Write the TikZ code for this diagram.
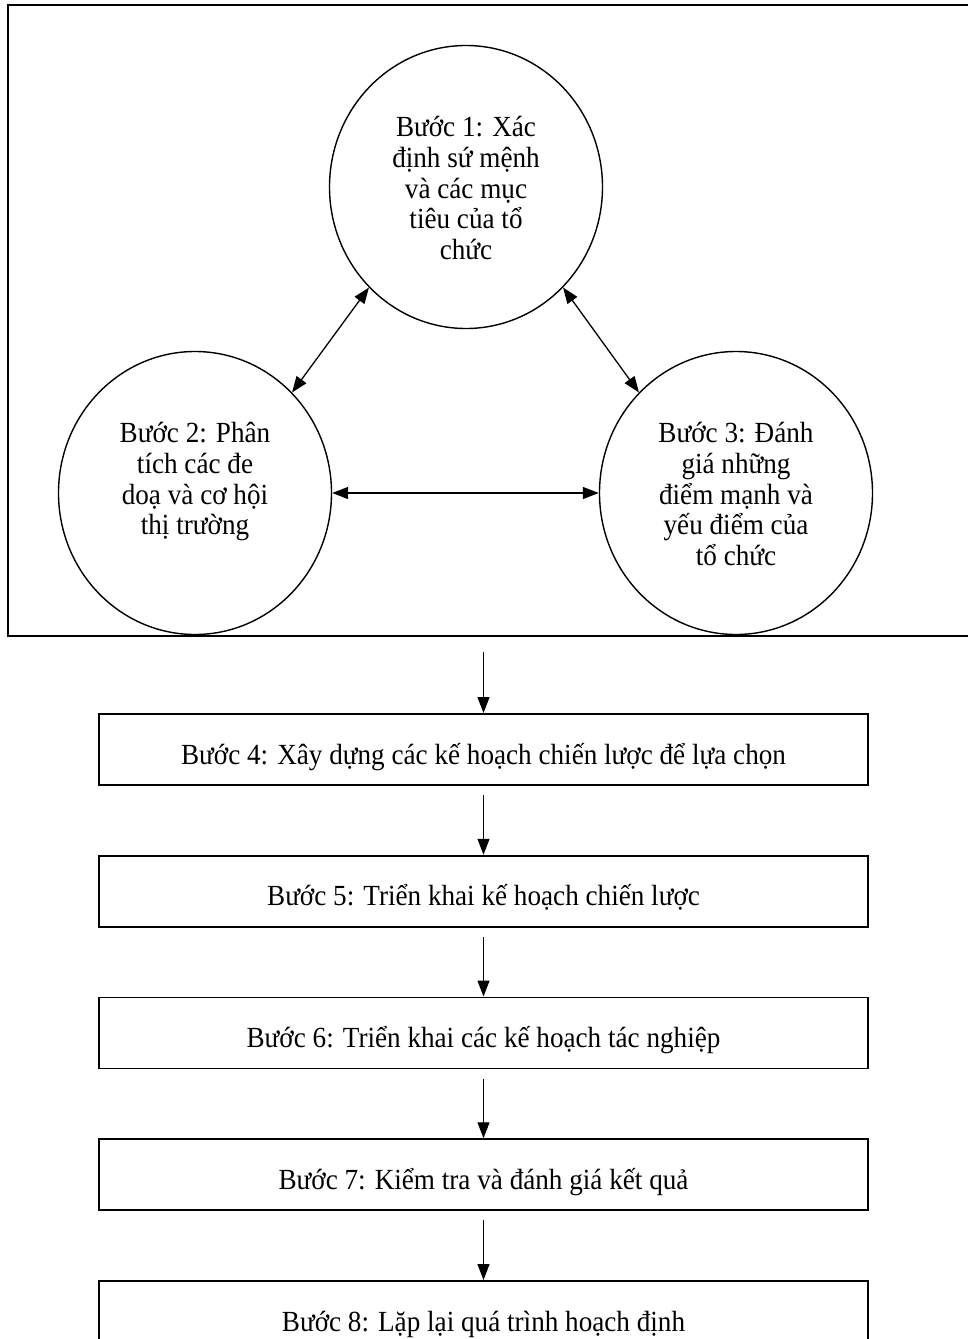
\documentclass[tikz,border=0pt]{standalone}
\usepackage{fontspec}
\setmainfont[FakeStretch=0.93]{Liberation Serif}
\usetikzlibrary{shapes.geometric,arrows.meta}
\begin{document}
\begin{tikzpicture}[x=1pt,y=-1pt,
  stage/.style={draw, ellipse, line width=1.4pt, minimum width=273pt, minimum height=283pt, inner sep=0pt},
  stagetext/.style={anchor=north, align=center, inner sep=0pt, font=\fontsize{29.2}{30.7}\selectfont},
  stepbox/.style={draw, line width=1.8pt, minimum width=769pt, minimum height=71pt, anchor=north, inner sep=0pt},
  boxtext/.style={anchor=base, inner sep=0pt, font=\fontsize{29.2}{30.7}\selectfont},
  link/.style={line width=1.3pt, {Triangle[length=16pt,width=12pt]}-{Triangle[length=16pt,width=12pt]}},
  flow/.style={line width=1.3pt, -{Triangle[length=16pt,width=12pt]}}
]
\useasboundingbox (0,0) rectangle (968,1339);
\fill[white] (0,0) rectangle (968,1339);

% frame around the three analysis stages
\draw[line width=2pt] (8,5) rectangle (990,636);

% analysis stages
\node[stage] (c1) at (466,187) {};
\node[stage] (c2) at (195,493) {};
\node[stage] (c3) at (736,493) {};

\node[stagetext] (t1) at (466,106.5) {\rule{0pt}{30pt}Bước 1: Xác\\định sứ mệnh\\và các mục\\tiêu của tổ\\chức};
\node[stagetext] (t2) at (195,412.5) {\rule{0pt}{30pt}Bước 2: Phân\\tích các đe\\doạ và cơ hội\\thị trường};
\node[stagetext] (t3) at (736,412.5) {\rule{0pt}{30pt}Bước 3: Đánh\\giá những\\điểm mạnh và\\yếu điểm của\\tổ chức};

\draw[link] (c1.226) -- (c2.46);
\draw[link] (c1.314) -- (c3.134);
\draw[link] (c2.east) -- (c3.west);

% sequential steps
\node[stepbox] (b4) at (483.5,713) {};
\node[stepbox] (b5) at (483.5,854.75) {};
\node[stepbox] (b6) at (483.5,996.5) {};
\node[stepbox] (b7) at (483.5,1138.25) {};
\node[stepbox] (b8) at (483.5,1280) {};

\node[boxtext] (t4) at (483.5,764) {Bước 4: Xây dựng các kế hoạch chiến lược để lựa chọn};
\node[boxtext] (t5) at (483.5,905.75) {Bước 5: Triển khai kế hoạch chiến lược};
\node[boxtext] (t6) at (483.5,1047.5) {Bước 6: Triển khai các kế hoạch tác nghiệp};
\node[boxtext] (t7) at (483.5,1189.25) {Bước 7: Kiểm tra và đánh giá kết quả};
\node[boxtext] (t8) at (483.5,1331) {Bước 8: Lặp lại quá trình hoạch định};

\coordinate (a4) at (483.5,652);
\coordinate (a5) at (483.5,795);
\coordinate (a6) at (483.5,937);
\coordinate (a7) at (483.5,1078.5);
\coordinate (a8) at (483.5,1220);

\draw[flow] (a4) -- (b4.north);
\draw[flow] (a5) -- (b5.north);
\draw[flow] (a6) -- (b6.north);
\draw[flow] (a7) -- (b7.north);
\draw[flow] (a8) -- (b8.north);
\end{tikzpicture}
\end{document}
